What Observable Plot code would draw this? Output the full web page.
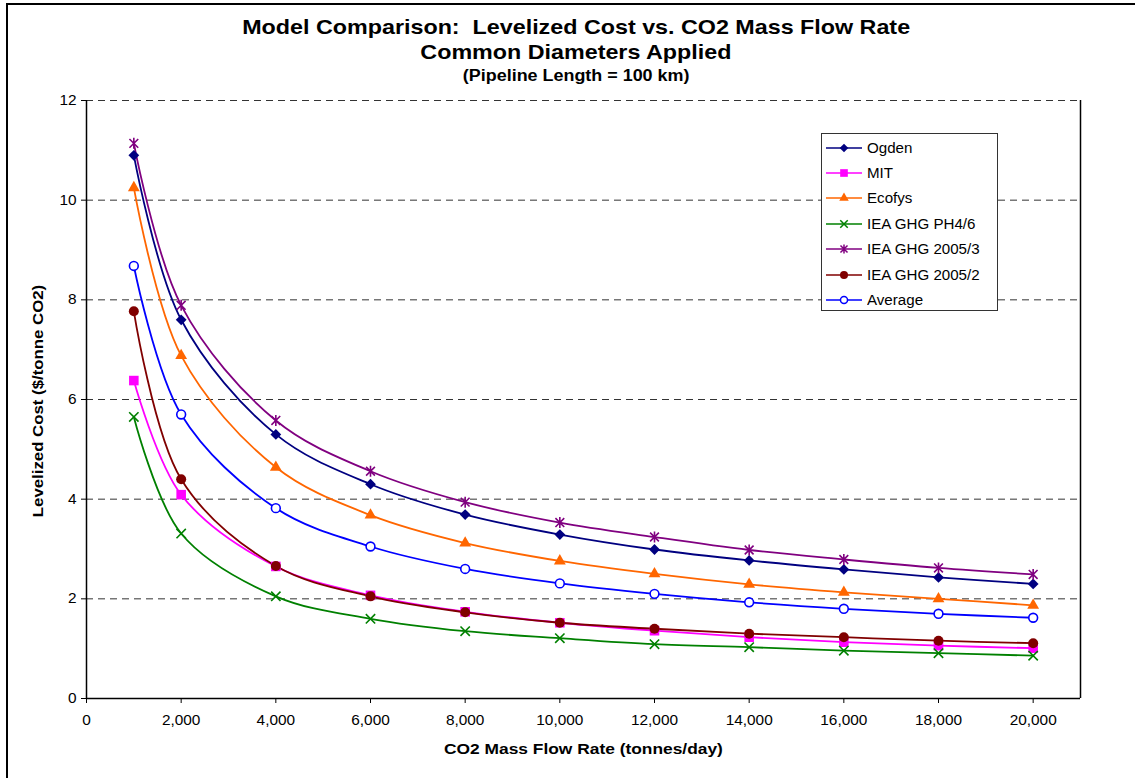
<!DOCTYPE html>
<html>
<head>
<meta charset="utf-8">
<script src="https://cdn.jsdelivr.net/npm/d3@7"></script>
<script src="https://cdn.jsdelivr.net/npm/@observablehq/plot@0.6"></script>
<style>
  html, body { margin: 0; padding: 0; background: #fff; }
  #wrap { position: relative; width: 1135px; height: 778px; overflow: hidden; font-family: "Liberation Sans", Arial, sans-serif; }
  #border { position: absolute; left: 6px; top: 3px; width: 1150px; height: 800px; border: 2px solid #000; box-sizing: border-box; }
  .t { position: absolute; left: 0; width: 1152px; text-align: center; font-weight: bold; color: #000; z-index: 3; white-space: nowrap; }
  .sx { display: inline-block; transform: scaleX(1.12); transform-origin: center; }
  #legend { position: absolute; left: 821px; top: 133px; width: 177px; height: 178px; border: 1px solid #333; background: #fff; box-sizing: border-box; z-index: 3; padding-top: 1px; }
  .row { height: 25.4px; display: flex; align-items: center; font-size: 14px; white-space: nowrap; }
  .row svg { margin-left: 4px; margin-right: 5px; flex: none; }
  .row span { display: inline-block; transform: scaleX(1.08); transform-origin: left center; }
  #plot { position: absolute; left: 0; top: 0; z-index: 1; }
  .lab { position: absolute; font-weight: bold; z-index: 3; white-space: nowrap; }
</style>
</head>
<body>
<div id="wrap">
  <div id="border"></div>
  <div class="t" style="top:15px;font-size:20.8px;"><span class="sx">Model Comparison:&nbsp; Levelized Cost vs. CO2 Mass Flow Rate</span></div>
  <div class="t" style="top:40px;font-size:20.8px;"><span class="sx">Common Diameters Applied</span></div>
  <div class="t" style="top:67px;font-size:16px;"><span class="sx">(Pipeline Length = 100 km)</span></div>
  <div id="plot"></div>
  <div class="lab" style="left:0;width:1166px;text-align:center;top:740px;font-size:15.5px;"><span class="sx">CO2 Mass Flow Rate (tonnes/day)</span></div>
  <div class="lab" style="left:37px;top:401px;font-size:15px;transform:translate(-50%,-50%) rotate(-90deg) scaleX(1.12);">Levelized Cost ($/tonne CO2)</div>
  <div id="legend"></div>
</div>
<script>
// ---- data ----
const flow = [1000, 2000, 4000, 6000, 8000, 10000, 12000, 14000, 16000, 18000, 20000];
const ogden     = [10.90, 7.60, 5.30, 4.30, 3.69, 3.29, 2.99, 2.77, 2.59, 2.43, 2.30];
const mit       = [6.38, 4.09, 2.65, 2.07, 1.74, 1.52, 1.36, 1.23, 1.13, 1.06, 1.01];
const ecofys    = [10.25, 6.88, 4.64, 3.68, 3.12, 2.76, 2.50, 2.29, 2.13, 2.00, 1.87];
const ieaPH46   = [5.65, 3.31, 2.05, 1.60, 1.35, 1.21, 1.09, 1.03, 0.96, 0.91, 0.86];
const iea2005_3 = [11.14, 7.89, 5.58, 4.56, 3.94, 3.53, 3.24, 2.98, 2.79, 2.62, 2.49];
const iea2005_2 = [7.77, 4.40, 2.66, 2.05, 1.73, 1.52, 1.40, 1.30, 1.23, 1.16, 1.11];
const average   = [8.68, 5.70, 3.82, 3.05, 2.60, 2.31, 2.10, 1.93, 1.80, 1.70, 1.62];
const xTicks = [0, 2000, 4000, 6000, 8000, 10000, 12000, 14000, 16000, 18000, 20000];
const yTicks = [0, 2, 4, 6, 8, 10, 12];
const gridY = [2, 4, 6, 8, 10, 12];

// custom symbols (Excel-like square diamond, star and x)
const excelDiamond = {draw(ctx, size) { const r = Math.sqrt(size / 2); ctx.moveTo(0, -r); ctx.lineTo(r, 0); ctx.lineTo(0, r); ctx.lineTo(-r, 0); ctx.closePath(); }};
const excelStar = {draw(ctx, size) { const r = Math.sqrt(size / Math.PI); const a = r * 0.8;
  ctx.moveTo(-a, -a); ctx.lineTo(a, a); ctx.moveTo(-a, a); ctx.lineTo(a, -a); ctx.moveTo(0, -r); ctx.lineTo(0, r); }};
const excelX = {draw(ctx, size) { const a = Math.sqrt(size / Math.PI) * 0.85;
  ctx.moveTo(-a, -a); ctx.lineTo(a, a); ctx.moveTo(-a, a); ctx.lineTo(a, -a); }};

const series = [
  {name: "Ogden", values: ogden, color: "#000080", symbol: excelDiamond, filled: true, r: 4.3},
  {name: "MIT", values: mit, color: "#FF00FF", symbol: d3.symbolSquare, filled: true, r: 5.4},
  {name: "Ecofys", values: ecofys, color: "#FF6600", symbol: d3.symbolTriangle, filled: true, r: 4.4},
  {name: "IEA GHG PH4/6", values: ieaPH46, color: "#008000", symbol: excelX, filled: false, r: 5.5},
  {name: "IEA GHG 2005/3", values: iea2005_3, color: "#800080", symbol: excelStar, filled: false, r: 5.5},
  {name: "IEA GHG 2005/2", values: iea2005_2, color: "#800000", symbol: d3.symbolCircle, filled: true, r: 5},
  {name: "Average", values: average, color: "#0000FF", symbol: d3.symbolCircle, filled: false, r: 4.4}
];

const marks = [
  Plot.ruleY(gridY, {stroke: "#333", strokeWidth: 1, strokeDasharray: "7,5"}),
  Plot.ruleX([21000], {stroke: "#000", strokeWidth: 1.5}),
  Plot.ruleX([0], {stroke: "#000", strokeWidth: 1.5}),
  Plot.ruleY([0], {stroke: "#000", strokeWidth: 1.5}),
  Plot.axisX({ticks: xTicks, tickFormat: d3.format(","), tickSize: 5, tickPadding: 12, label: null}),
  Plot.axisY({ticks: yTicks, tickSize: 5, tickPadding: 5, label: null})
];
for (const s of series) {
  const data = flow.map((f, i) => ({x: f, y: s.values[i]}));
  marks.push(Plot.line(data, {x: "x", y: "y", stroke: s.color, strokeWidth: 1.8, curve: "catmull-rom"}));
}
for (const s of series) {
  const data = flow.map((f, i) => ({x: f, y: s.values[i]}));
  if (s.filled) {
    marks.push(Plot.dot(data, {x: "x", y: "y", symbol: () => s.symbol, fill: s.color, stroke: "none", r: s.r}));
  } else {
    marks.push(Plot.dot(data, {x: "x", y: "y", symbol: () => s.symbol, stroke: s.color, fill: s.symbol === d3.symbolCircle ? "#fff" : "none", strokeWidth: 1.6, r: s.r}));
  }
}

const chart = Plot.plot({
  width: 1135,
  height: 778,
  marginLeft: 86,
  marginRight: 55,
  marginTop: 100,
  marginBottom: 80,
  style: {background: "transparent", fontFamily: "Liberation Sans, Arial, sans-serif", fontSize: "14px", color: "#000"},
  x: {domain: [0, 21000]},
  y: {domain: [0, 12]},
  marks
});
// widen axis tick labels slightly, like the reference
chart.querySelectorAll("g[aria-label]").forEach(g => {
  const lab = g.getAttribute("aria-label");
  if (lab && lab.indexOf("tick label") >= 0) {
    g.querySelectorAll("text").forEach(t => {
      const tr = t.getAttribute("transform") || "";
      t.setAttribute("transform", tr + " scale(1.1,1)");
    });
  }
});
document.getElementById("plot").appendChild(chart);

// ---- legend ----
const leg = document.getElementById("legend");
const ns = "http://www.w3.org/2000/svg";
for (const s of series) {
  const row = document.createElement("div");
  row.className = "row";
  const svg = document.createElementNS(ns, "svg");
  svg.setAttribute("width", 36); svg.setAttribute("height", 14);
  const line = document.createElementNS(ns, "line");
  line.setAttribute("x1", 0); line.setAttribute("x2", 36); line.setAttribute("y1", 7); line.setAttribute("y2", 7);
  line.setAttribute("stroke", s.color); line.setAttribute("stroke-width", 1.7);
  svg.appendChild(line);
  const p = document.createElementNS(ns, "path");
  const lr = s.r * 0.8;
  p.setAttribute("d", d3.symbol(s.symbol, Math.PI * lr * lr)());
  p.setAttribute("transform", "translate(18,7)");
  if (s.filled) { p.setAttribute("fill", s.color); }
  else { p.setAttribute("fill", s.symbol === d3.symbolCircle ? "#fff" : "none"); p.setAttribute("stroke", s.color); p.setAttribute("stroke-width", 1.5); }
  svg.appendChild(p);
  row.appendChild(svg);
  const t = document.createElement("span");
  t.textContent = s.name;
  row.appendChild(t);
  leg.appendChild(row);
}
</script>
</body>
</html>
